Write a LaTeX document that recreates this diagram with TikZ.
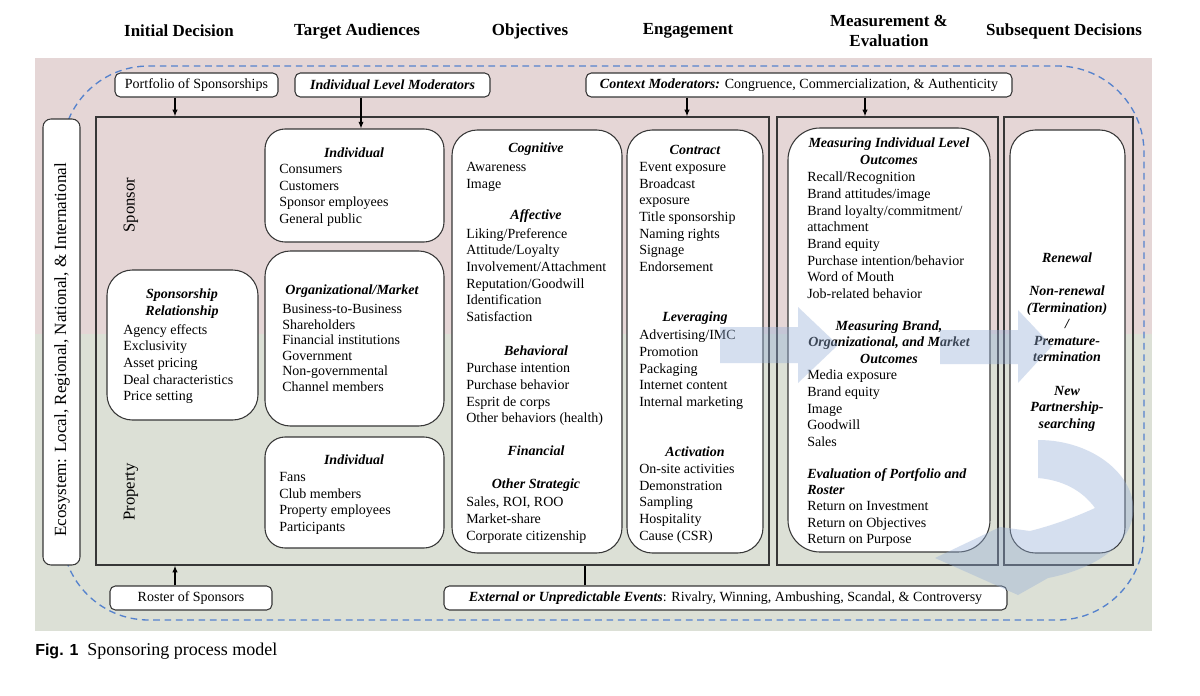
\documentclass[tikz,border=0pt]{standalone}
\usepackage{fontspec}
\setmainfont{Liberation Serif}
\newfontfamily\capsans{Liberation Sans}
\usetikzlibrary{fit,arrows.meta}
\definecolor{bgpink}{RGB}{229,214,214}
\definecolor{bggreen}{RGB}{220,224,214}
\definecolor{dashblue}{RGB}{85,130,205}
\definecolor{bord}{RGB}{55,55,55}
\definecolor{flowblue}{RGB}{150,176,216}
\newcommand{\fsn}{\fontsize{10.5}{12.5}\selectfont}
\newcommand{\fso}{\fontsize{10.5}{11.7}\selectfont}
\begin{document}
\begin{tikzpicture}[x=0.75pt,y=-0.75pt,
  rbox/.style={draw=bord, line width=0.8pt, fill=white, rounded corners=15pt, inner sep=0pt},
  sbox/.style={draw=bord, line width=0.8pt, fill=white, rounded corners=4pt, inner sep=0pt, font=\fsn, minimum height=18pt},
  obox/.style={draw=bord, line width=1pt, inner sep=0pt},
  hdg/.style={font=\fsn\bfseries\itshape, inner sep=0pt, align=center},
  itm/.style={font=\fsn, inner sep=0pt, align=left, anchor=north west},
  colh/.style={font=\fontsize{12.7}{15.5}\selectfont\bfseries, inner sep=0pt, align=center},
  side/.style={font=\fontsize{12.5}{14}\selectfont, inner sep=0pt, rotate=90},
  arr/.style={-{Latex[length=5pt,width=4pt]}, line width=0.8pt, draw=black},
  flow/.style={fill=flowblue, fill opacity=0.4, draw=none}
]
\useasboundingbox (0,0) rectangle (1200,696);
\fill[white] (0,0) rectangle (1200,696);
\fill[bgpink] (35,58) rectangle (1152,334);
\fill[bggreen] (35,334) rectangle (1152,631);

% column headers
\node[colh] (h1) at (179,31) {Initial Decision};
\node[colh] (h2) at (357,31) {Target Audiences};
\node[colh] (h3) at (530,31) {Objectives};
\node[colh] (h4) at (688,31) {Engagement};
\node[colh] (h5) at (889,31) {Measurement \&\\Evaluation};
\node[colh] (h6) at (1064,31) {Subsequent Decisions};

% dashed ecosystem loop
\draw[dashblue, dash pattern=on 5pt off 3.5pt, line width=1pt, rounded corners=65pt] (62,66) rectangle (1144,620);

% outer frames
\node[obox, fit={(96,117) (769,565)}] (main) {};
\node[obox, fit={(777,117) (998,565)}] (meas) {};
\node[obox, fit={(1004,117) (1133,565)}] (subs) {};

% ecosystem
\node[rbox, rounded corners=6pt, fit={(43,119) (80,565)}] (eco) {};
\node[font=\fontsize{12.8}{14}\selectfont, inner sep=0pt, rotate=90] (ecot) at (62,350) {Ecosystem: Local, Regional, National, \& International};

% side labels
\node[side] (spl) at (131,205) {Sponsor};
\node[side] (prl) at (131,492) {Property};

% top and bottom boxes
\node[sbox, minimum width=122.25pt] (port) at (196.5,85) {Portfolio of Sponsorships};
\node[sbox, minimum width=146.25pt] (ilm) at (392.5,85) {\bfseries\itshape Individual Level Moderators};
\node[sbox, minimum width=319.5pt] (ctx) at (799,85) {{\bfseries\itshape Context Moderators:} Congruence, Commercialization, \& Authenticity};
\node[sbox, minimum width=121.5pt] (roster) at (191,598) {Roster of Sponsors};
\node[sbox, minimum width=422.25pt] (ext) at (725.5,598) {{\bfseries\itshape External or Unpredictable Events}: Rivalry, Winning, Ambushing, Scandal, \& Controversy};

% sponsorship relationship
\node[rbox, rounded corners=19pt, fit={(107,270) (258,420)}] (srb) {};
\node[hdg] (srh) at (182,303.5) {Sponsorship\\Relationship};
\node[itm] (sri) at (123,324) {Agency effects\\Exclusivity\\Asset pricing\\Deal characteristics\\Price setting};

% target audiences
\node[rbox, fit={(265,129) (444,242)}] (ind1) {};
\node[hdg] (i1h) at (354,153) {Individual};
\node[itm] (i1i) at (279,164) {Consumers\\Customers\\Sponsor employees\\General public};

\node[rbox, rounded corners=19pt, fit={(265,251) (444,426)}] (org) {};
\node[hdg] (orh) at (352,291) {Organizational/Market};
\node[itm, font=\fso] (ori) at (282,304) {Business-to-Business\\Shareholders\\Financial institutions\\Government\\Non-governmental\\Channel members};

\node[rbox, fit={(265,437) (444,548)}] (ind2) {};
\node[hdg] (i2h) at (354,460) {Individual};
\node[itm] (i2i) at (279,472) {Fans\\Club members\\Property employees\\Participants};

% objectives
\node[rbox, rounded corners=19pt, fit={(452,130) (622,553)}] (obj) {};
\node[hdg] (cogh) at (536,149) {Cognitive};
\node[itm] (cogi) at (466,162) {Awareness\\Image};
\node[hdg] (affh) at (536,216) {Affective};
\node[itm] (affi) at (466,228) {Liking/Preference\\Attitude/Loyalty\\Involvement/Attachment\\Reputation/Goodwill\\Identification\\Satisfaction};
\node[hdg] (behh) at (536,351) {Behavioral};
\node[itm] (behi) at (466,363) {Purchase intention\\Purchase behavior\\Esprit de corps\\Other behaviors (health)};
\node[hdg] (finh) at (536,451) {Financial};
\node[hdg] (osh) at (536,485) {Other Strategic};
\node[itm] (osi) at (466,497) {Sales, ROI, ROO\\Market-share\\Corporate citizenship};

% engagement
\node[rbox, rounded corners=19pt, fit={(627,130) (763,553)}] (eng) {};
\node[hdg] (conh) at (695,150) {Contract};
\node[itm] (coni) at (639,162) {Event exposure\\Broadcast\\exposure\\Title sponsorship\\Naming rights\\Signage\\Endorsement};
\node[hdg] (levh) at (695,318) {Leveraging};
\node[itm] (levi) at (639,330) {Advertising/IMC\\Promotion\\Packaging\\Internet content\\Internal marketing};
\node[hdg] (acth) at (695,452) {Activation};
\node[itm] (acti) at (639,464) {On-site activities\\Demonstration\\Sampling\\Hospitality\\Cause (CSR)};

% measurement
\node[rbox, rounded corners=24pt, fit={(788,128) (990,552)}] (mbox) {};
\node[hdg] (m1h) at (889,151.5) {Measuring Individual Level\\Outcomes};
\node[itm] (m1i) at (807,172) {Recall/Recognition\\Brand attitudes/image\\Brand loyalty/commitment/\\attachment\\Brand equity\\Purchase intention/behavior\\Word of Mouth\\Job-related behavior};
\node[hdg] (m2h) at (889,342) {Measuring Brand,\\Organizational, and Market\\Outcomes};
\node[itm] (m2i) at (807,370) {Media exposure\\Brand equity\\Image\\Goodwill\\Sales};
\node[hdg, align=left, anchor=north west] (m3h) at (807,468) {Evaluation of Portfolio and\\Roster};
\node[itm] (m3i) at (807,501) {Return on Investment\\Return on Objectives\\Return on Purpose};

% subsequent decisions
\node[rbox, rounded corners=19pt, fit={(1010,130) (1125,553)}] (sbx) {};
\node[hdg, font=\fontsize{10.5}{12.45}\selectfont\bfseries\itshape] (sdh) at (1067,342) {Renewal\\ \strut\\ Non-renewal\\(Termination)\\/\\Premature-\\termination\\ \strut\\ New\\Partnership-\\searching};

% connectors
\coordinate (ax1) at (175,0);
\coordinate (ax2) at (361,0);
\coordinate (ax3) at (687,0);
\coordinate (ax4) at (865,0);
\coordinate (ax5) at (585,0);
\draw[arr] (ax1 |- port.south) -- (ax1 |- main.north);
\draw[arr] (ax2 |- ilm.south) -- (ax2 |- ind1.north);
\draw[arr] (ax3 |- ctx.south) -- (ax3 |- main.north);
\draw[arr] (ax4 |- ctx.south) -- (ax4 |- meas.north);
\draw[arr] (ax1 |- roster.north) -- (ax1 |- main.south);
\draw[line width=0.8pt] (ax5 |- ext.north) -- (ax5 |- main.south);

% translucent flow arrows
\fill[flow] (720,327) -- (798,327) -- (798,307) -- (838,345) -- (798,383) -- (798,363) -- (720,363) -- cycle;
\fill[flow] (940,330) -- (1018,330) -- (1018,310) -- (1052,346) -- (1018,383) -- (1018,364) -- (940,364) -- cycle;
\fill[flow] (1038,440) .. controls (1095,440) and (1138,478) .. (1133,515)
  .. controls (1128,548) and (1090,570) .. (1048,578)
  -- (1018,595) -- (935,558) -- (1000,527) -- (1030,531)
  .. controls (1058,524) and (1082,514) .. (1095,508)
  .. controls (1082,490) and (1062,480) .. (1038,478) -- cycle;

% caption
\node[anchor=west, inner sep=0pt, font=\capsans\bfseries\fontsize{12}{14}\selectfont] (figl) at (35,651) {Fig. 1};
\node[anchor=west, inner sep=0pt, font=\fontsize{13.5}{16}\selectfont] (figt) at (87,651) {Sponsoring process model};
\end{tikzpicture}
\end{document}
